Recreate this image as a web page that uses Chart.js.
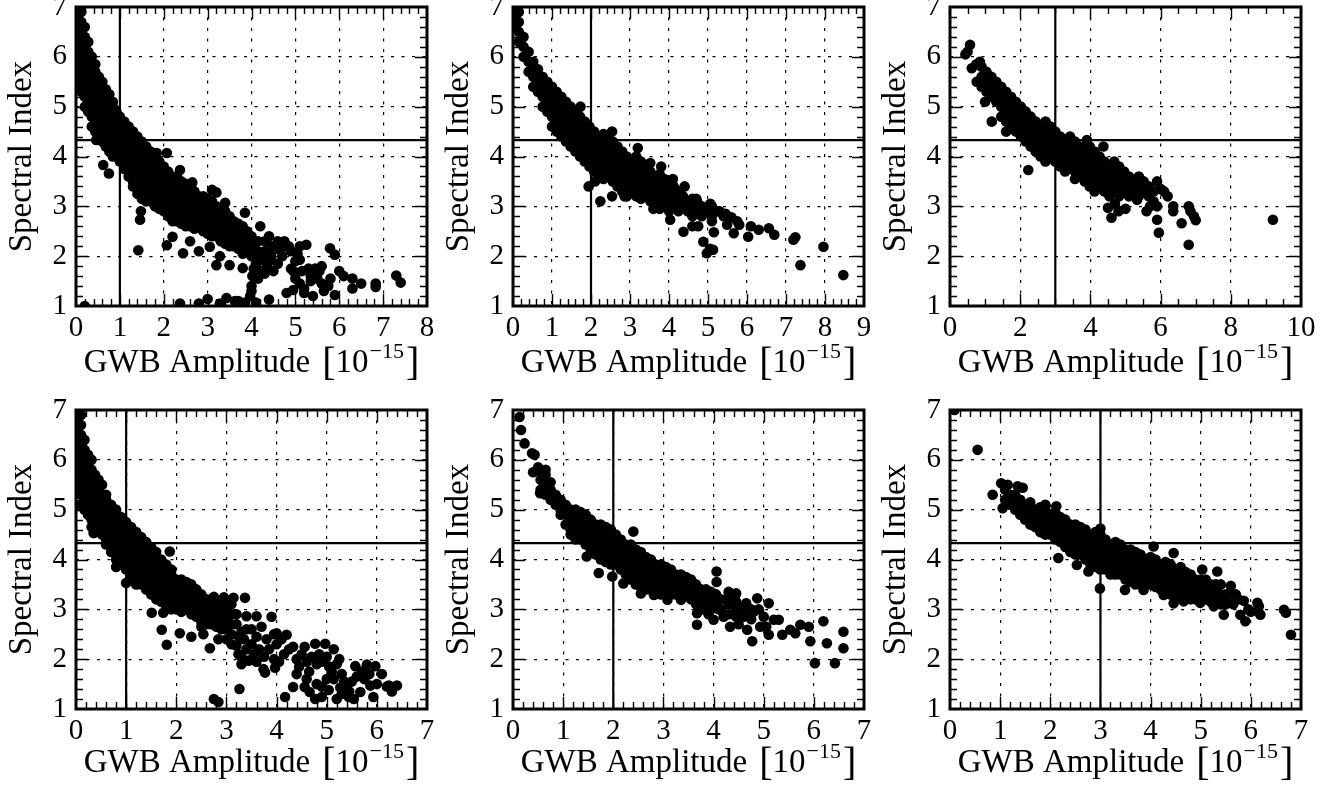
<!DOCTYPE html>
<html>
<head>
<meta charset="utf-8">
<script src="https://cdn.jsdelivr.net/npm/chart.js@4.4.1/dist/chart.umd.min.js"></script>
<style>
  body { margin: 0; background: #fff; width: 1338px; height: 786px; overflow: hidden; position: relative; }
  canvas { position: absolute; }
</style>
</head>
<body>
<script>
// axis setup per panel (top row left->right, then bottom row)
const xMaxes = [8, 9, 10, 7, 7, 7];
const xSteps = [1, 1, 2, 1, 1, 1];
const xMinorSteps = [0.2, 0.2, 0.5, 0.2, 0.2, 0.2];
const yTicks = [1, 2, 3, 4, 5, 6, 7];
const vLines = [1, 2, 3, 1, 2, 3];
const hLine = 4.33;

// dense part of each cloud: [x, y, y, ...] read column by column
const band1 = [
  [0.04, 7.0, 6.8, 6.6, 6.4, 6.2, 6.0, 5.8, 5.6, 5.4],
  [0.12, 6.9, 6.7, 6.5, 6.3, 6.1, 5.9, 5.7, 5.5, 5.3],
  [0.2, 6.6, 6.4, 6.2, 6.0, 5.8, 5.6, 5.4, 5.2, 5.0],
  [0.28, 6.3, 6.1, 5.9, 5.7, 5.5, 5.3, 5.1, 4.9],
  [0.36, 6.0, 5.8, 5.6, 5.4, 5.2, 5.0, 4.8, 4.6],
  [0.44, 5.85, 5.7, 5.5, 5.3, 5.1, 4.9, 4.7, 4.5],
  [0.52, 5.6, 5.4, 5.2, 5.0, 4.8, 4.6, 4.4],
  [0.6, 5.5, 5.3, 5.1, 4.9, 4.7, 4.5, 4.3],
  [0.68, 5.35, 5.2, 5.0, 4.8, 4.6, 4.4, 4.2],
  [0.76, 5.25, 5.1, 4.9, 4.7, 4.5, 4.3, 4.1],
  [0.84, 5.1, 5.0, 4.8, 4.6, 4.4, 4.2, 4.0],
  [0.92, 4.9, 4.7, 4.5, 4.3, 4.1],
  [1.0, 4.8, 4.6, 4.4, 4.2, 4.0, 3.9],
  [1.1, 4.7, 4.5, 4.3, 4.1, 3.9, 3.75],
  [1.2, 4.6, 4.4, 4.2, 4.0, 3.8, 3.6],
  [1.3, 4.5, 4.3, 4.1, 3.9, 3.7, 3.5, 3.4],
  [1.4, 4.4, 4.2, 4.0, 3.8, 3.6, 3.4, 3.25],
  [1.5, 4.3, 4.1, 3.9, 3.7, 3.5, 3.3, 3.15],
  [1.6, 4.2, 4.0, 3.8, 3.6, 3.4, 3.2, 3.1],
  [1.7, 4.1, 3.9, 3.7, 3.5, 3.3, 3.1],
  [1.8, 4.0, 3.8, 3.6, 3.4, 3.2, 3.0],
  [1.9, 3.9, 3.7, 3.5, 3.3, 3.1, 2.95],
  [2.0, 3.8, 3.6, 3.4, 3.2, 3.0, 2.9],
  [2.1, 3.7, 3.5, 3.3, 3.1, 2.9, 2.8],
  [2.2, 3.6, 3.4, 3.2, 3.0, 2.8, 2.7],
  [2.3, 3.6, 3.5, 3.3, 3.1, 2.9, 2.7],
  [2.4, 3.5, 3.4, 3.2, 3.0, 2.8, 2.65],
  [2.5, 3.45, 3.3, 3.1, 2.9, 2.7, 2.6],
  [2.6, 3.35, 3.2, 3.0, 2.8, 2.6],
  [2.7, 3.3, 3.1, 2.9, 2.7, 2.55],
  [2.8, 3.2, 3.0, 2.8, 2.6],
  [2.9, 3.2, 3.1, 2.9, 2.7, 2.5],
  [3.0, 3.15, 3.0, 2.8, 2.6, 2.45],
  [3.1, 3.1, 2.9, 2.7, 2.5, 2.4],
  [3.2, 3.0, 2.8, 2.6, 2.4],
  [3.3, 2.9, 2.7, 2.5, 2.3],
  [3.4, 2.9, 2.8, 2.6, 2.4, 2.25],
  [3.5, 2.8, 2.7, 2.5, 2.3, 2.2],
  [3.6, 2.7, 2.6, 2.4, 2.2],
  [3.7, 2.65, 2.5, 2.3, 2.15],
  [3.8, 2.6, 2.4, 2.2, 2.05],
  [3.9, 2.5, 2.3, 2.1],
  [4.0, 2.4, 2.2, 2.0],
  [4.15, 2.3, 2.1, 1.9],
  [4.3, 2.3, 2.1],
  [4.45, 2.2],
  [4.6, 2.15]
];
const band2 = [
  [0.05, 7.0, 6.8, 6.6],
  [0.15, 6.9, 6.7, 6.5, 6.3],
  [0.27, 6.4, 6.2, 6.0],
  [0.4, 6.1, 5.9, 5.7],
  [0.52, 5.9, 5.8, 5.6, 5.4],
  [0.64, 5.75, 5.5, 5.3],
  [0.76, 5.6, 5.4, 5.2, 5.0],
  [0.88, 5.5, 5.3, 5.1, 4.9],
  [1.0, 5.4, 5.2, 5.0, 4.8, 4.6],
  [1.12, 5.3, 5.1, 4.9, 4.7, 4.5],
  [1.24, 5.2, 5.0, 4.8, 4.6, 4.4],
  [1.36, 5.1, 4.9, 4.7, 4.5, 4.3],
  [1.48, 5.0, 4.8, 4.6, 4.4, 4.2],
  [1.6, 4.9, 4.7, 4.5, 4.3, 4.1],
  [1.72, 4.8, 4.6, 4.4, 4.2, 4.0],
  [1.84, 4.7, 4.5, 4.3, 4.1, 3.9],
  [1.96, 4.6, 4.4, 4.2, 4.0, 3.8],
  [2.08, 4.5, 4.3, 4.1, 3.9, 3.7],
  [2.2, 4.4, 4.2, 4.0, 3.8, 3.6],
  [2.32, 4.45, 4.3, 4.1, 3.9, 3.7, 3.55],
  [2.44, 4.4, 4.2, 4.0, 3.8, 3.6],
  [2.56, 4.3, 4.1, 3.9, 3.7, 3.5],
  [2.68, 4.2, 4.0, 3.8, 3.6, 3.4],
  [2.8, 4.1, 3.9, 3.7, 3.5, 3.3],
  [2.92, 4.0, 3.8, 3.6, 3.4, 3.2],
  [3.04, 3.9, 3.7, 3.5, 3.3],
  [3.16, 4.0, 3.8, 3.6, 3.4, 3.2],
  [3.28, 3.9, 3.7, 3.5, 3.3, 3.15],
  [3.4, 3.8, 3.6, 3.4, 3.2],
  [3.52, 3.7, 3.5, 3.3, 3.1],
  [3.64, 3.6, 3.4, 3.2, 3.0],
  [3.76, 3.65, 3.5, 3.3, 3.1, 2.95],
  [3.88, 3.55, 3.4, 3.2, 3.0],
  [4.0, 3.5, 3.3, 3.1, 2.9],
  [4.12, 3.4, 3.2, 3.0],
  [4.24, 3.3, 3.1, 2.9],
  [4.36, 3.2, 3.0],
  [4.48, 3.1, 2.9],
  [4.6, 3.15, 3.0, 2.8],
  [4.72, 3.1, 2.9],
  [4.84, 3.0, 2.8],
  [4.96, 2.9],
  [5.1, 3.0, 2.8],
  [5.25, 2.9],
  [5.4, 2.8]
];
const band3 = [
  [0.9, 5.8, 5.6, 5.4],
  [1.04, 5.7, 5.5, 5.3],
  [1.18, 5.6, 5.4, 5.2],
  [1.32, 5.5, 5.3, 5.1],
  [1.46, 5.4, 5.2, 5.0, 4.8],
  [1.6, 5.3, 5.1, 4.9, 4.7, 4.5],
  [1.74, 5.2, 5.0, 4.8, 4.6],
  [1.88, 5.1, 4.9, 4.7, 4.5],
  [2.02, 5.0, 4.8, 4.6, 4.4],
  [2.16, 4.9, 4.7, 4.5, 4.3],
  [2.3, 4.8, 4.6, 4.4, 4.2],
  [2.44, 4.7, 4.5, 4.3, 4.1],
  [2.58, 4.6, 4.4, 4.2, 4.0],
  [2.72, 4.7, 4.5, 4.3, 4.1, 3.9],
  [2.86, 4.6, 4.4, 4.2, 4.0],
  [3.0, 4.5, 4.3, 4.1, 3.9],
  [3.14, 4.4, 4.2, 4.0, 3.8],
  [3.28, 4.3, 4.1, 3.9, 3.7],
  [3.42, 4.4, 4.2, 4.0, 3.8],
  [3.56, 4.3, 4.1, 3.9, 3.7, 3.55],
  [3.7, 4.2, 4.0, 3.8, 3.6],
  [3.84, 4.1, 3.9, 3.7, 3.5],
  [3.98, 4.2, 4.0, 3.8, 3.6, 3.4],
  [4.12, 4.1, 3.9, 3.7, 3.5, 3.3],
  [4.26, 4.0, 3.8, 3.6, 3.4],
  [4.4, 3.9, 3.7, 3.5, 3.3],
  [4.54, 3.8, 3.6, 3.4, 3.2],
  [4.68, 3.9, 3.7, 3.5, 3.3],
  [4.82, 3.8, 3.6, 3.4, 3.2],
  [4.96, 3.7, 3.5, 3.3],
  [5.1, 3.6, 3.4, 3.2],
  [5.24, 3.5, 3.3],
  [5.38, 3.6, 3.4, 3.2],
  [5.52, 3.5, 3.3],
  [5.66, 3.4, 3.2],
  [5.8, 3.3, 3.1]
];
const band4 = [
  [0.03, 7.0, 6.8, 6.6, 6.4, 6.2, 6.0, 5.8, 5.6, 5.4],
  [0.1, 6.9, 6.7, 6.5, 6.3, 6.1, 5.9, 5.7, 5.5, 5.3, 5.1],
  [0.17, 6.4, 6.2, 6.0, 5.8, 5.6, 5.4, 5.2, 5.0],
  [0.24, 6.1, 5.9, 5.7, 5.5, 5.3, 5.1, 4.9],
  [0.31, 6.0, 5.8, 5.6, 5.4, 5.2, 5.0, 4.8, 4.65],
  [0.38, 5.7, 5.5, 5.3, 5.1, 4.9, 4.7, 4.55],
  [0.45, 5.6, 5.4, 5.2, 5.0, 4.8, 4.6],
  [0.52, 5.5, 5.3, 5.1, 4.9, 4.7, 4.5],
  [0.6, 5.3, 5.2, 5.0, 4.8, 4.6, 4.4, 4.3],
  [0.7, 5.1, 4.9, 4.7, 4.5, 4.3, 4.15],
  [0.8, 5.0, 4.8, 4.6, 4.4, 4.2, 4.0],
  [0.9, 4.85, 4.7, 4.5, 4.3, 4.1, 3.9],
  [1.0, 4.75, 4.6, 4.4, 4.2, 4.0, 3.8],
  [1.1, 4.65, 4.5, 4.3, 4.1, 3.9, 3.7, 3.6],
  [1.2, 4.55, 4.4, 4.2, 4.0, 3.8, 3.6, 3.5],
  [1.3, 4.45, 4.3, 4.1, 3.9, 3.7, 3.5],
  [1.4, 4.35, 4.2, 4.0, 3.8, 3.6, 3.4],
  [1.5, 4.25, 4.1, 3.9, 3.7, 3.5, 3.3],
  [1.6, 4.15, 4.0, 3.8, 3.6, 3.4, 3.2],
  [1.7, 4.0, 3.9, 3.7, 3.5, 3.3, 3.15],
  [1.8, 3.9, 3.8, 3.6, 3.4, 3.2, 3.05],
  [1.9, 3.8, 3.7, 3.5, 3.3, 3.1, 3.0],
  [2.0, 3.6, 3.4, 3.2, 3.0],
  [2.1, 3.6, 3.5, 3.3, 3.1, 2.95],
  [2.2, 3.55, 3.4, 3.2, 3.0],
  [2.3, 3.5, 3.3, 3.1, 2.9],
  [2.4, 3.4, 3.2, 3.0, 2.85],
  [2.5, 3.3, 3.1, 2.9, 2.75],
  [2.6, 3.2, 3.0, 2.8, 2.7],
  [2.7, 3.2, 3.1, 2.9, 2.7],
  [2.8, 3.15, 3.0, 2.8, 2.65],
  [2.9, 3.1, 2.9, 2.7, 2.6],
  [3.0, 3.1, 3.0, 2.8, 2.6],
  [3.1, 3.1, 2.9, 2.7, 2.5]
];
const band5 = [
  [0.55, 5.75, 5.6, 5.4],
  [0.65, 5.7, 5.5, 5.3],
  [0.75, 5.55, 5.4, 5.2],
  [0.85, 5.3, 5.1],
  [0.95, 5.2, 5.0, 4.9],
  [1.05, 5.1, 4.9, 4.7],
  [1.15, 5.0, 4.8, 4.6, 4.5],
  [1.25, 5.0, 4.9, 4.7, 4.5, 4.4],
  [1.35, 4.95, 4.8, 4.6, 4.4],
  [1.45, 4.9, 4.7, 4.5, 4.3],
  [1.55, 4.8, 4.6, 4.4, 4.2],
  [1.65, 4.7, 4.5, 4.3, 4.1],
  [1.75, 4.7, 4.6, 4.4, 4.2, 4.0],
  [1.85, 4.65, 4.5, 4.3, 4.1, 3.95],
  [1.95, 4.6, 4.4, 4.2, 4.0, 3.9],
  [2.05, 4.5, 4.3, 4.1, 3.9],
  [2.15, 4.4, 4.2, 4.0, 3.8],
  [2.25, 4.3, 4.1, 3.9, 3.7],
  [2.35, 4.3, 4.2, 4.0, 3.8, 3.6],
  [2.45, 4.2, 4.1, 3.9, 3.7, 3.5],
  [2.55, 4.15, 4.0, 3.8, 3.6, 3.45],
  [2.65, 4.05, 3.9, 3.7, 3.5, 3.4],
  [2.75, 4.0, 3.8, 3.6, 3.4],
  [2.85, 3.9, 3.7, 3.5, 3.35],
  [2.95, 3.9, 3.8, 3.6, 3.4, 3.3],
  [3.05, 3.85, 3.7, 3.5, 3.3],
  [3.15, 3.8, 3.6, 3.4, 3.3],
  [3.25, 3.7, 3.5, 3.3],
  [3.35, 3.7, 3.6, 3.4, 3.3],
  [3.45, 3.65, 3.5, 3.3],
  [3.55, 3.6, 3.4, 3.2],
  [3.65, 3.5, 3.3, 3.1],
  [3.75, 3.4, 3.2, 3.05],
  [3.85, 3.4, 3.3, 3.1],
  [3.95, 3.35, 3.2, 3.0],
  [4.05, 3.3, 3.1],
  [4.15, 3.2, 3.0],
  [4.3, 3.25, 3.1, 2.9],
  [4.45, 3.15, 3.0, 2.85],
  [4.6, 3.05, 2.9],
  [4.75, 3.0, 2.8]
];
const band6 = [
  [1.1, 5.4, 5.2],
  [1.2, 5.3, 5.1],
  [1.3, 5.3, 5.2, 5.0],
  [1.4, 5.2, 5.1, 4.9],
  [1.5, 5.1, 5.0, 4.8],
  [1.6, 5.05, 4.9, 4.7],
  [1.7, 5.0, 4.8, 4.65],
  [1.8, 5.05, 4.9, 4.7, 4.55],
  [1.9, 5.0, 4.8, 4.6, 4.5],
  [2.0, 4.9, 4.7, 4.5],
  [2.1, 4.95, 4.8, 4.6, 4.4],
  [2.2, 4.85, 4.7, 4.5, 4.35],
  [2.3, 4.8, 4.6, 4.4, 4.25],
  [2.4, 4.7, 4.5, 4.3, 4.15],
  [2.5, 4.7, 4.6, 4.4, 4.2, 4.1],
  [2.6, 4.65, 4.5, 4.3, 4.1],
  [2.7, 4.6, 4.4, 4.2, 4.0],
  [2.8, 4.5, 4.3, 4.1, 3.9],
  [2.9, 4.55, 4.4, 4.2, 4.0, 3.85],
  [3.0, 4.5, 4.3, 4.1, 3.9, 3.8],
  [3.1, 4.4, 4.2, 4.0, 3.8],
  [3.2, 4.3, 4.1, 3.9, 3.7],
  [3.3, 4.35, 4.2, 4.0, 3.8, 3.7],
  [3.4, 4.3, 4.1, 3.9, 3.7],
  [3.5, 4.2, 4.0, 3.8, 3.6],
  [3.6, 4.2, 4.1, 3.9, 3.7, 3.55],
  [3.7, 4.15, 4.0, 3.8, 3.6, 3.5],
  [3.8, 4.1, 3.9, 3.7, 3.5],
  [3.9, 4.0, 3.8, 3.6, 3.5],
  [4.0, 4.05, 3.9, 3.7, 3.5],
  [4.1, 4.0, 3.8, 3.6, 3.45],
  [4.2, 3.9, 3.7, 3.5, 3.4],
  [4.3, 3.95, 3.8, 3.6, 3.4],
  [4.4, 3.9, 3.7, 3.5, 3.3],
  [4.5, 3.8, 3.6, 3.4, 3.25],
  [4.6, 3.85, 3.7, 3.5, 3.3],
  [4.7, 3.75, 3.6, 3.4, 3.2],
  [4.8, 3.7, 3.5, 3.3, 3.2],
  [4.9, 3.6, 3.4, 3.2],
  [5.0, 3.6, 3.5, 3.3, 3.2],
  [5.1, 3.6, 3.4, 3.2],
  [5.2, 3.5, 3.3, 3.15],
  [5.3, 3.5, 3.4, 3.2],
  [5.4, 3.3, 3.1],
  [5.5, 3.3, 3.1]
];

// the stragglers around each cloud, [x, y]
const extra1 = [[0.2,1.0],[0.46,4.33],[0.62,3.83],[0.75,3.66],[1.42,2.12],[1.46,2.73],[1.48,2.9],[1.84,4.07],[2.07,4.07],[2.07,2.22],[2.2,2.39],[2.44,2.06],[2.6,2.3],[2.8,2.1],[3.05,2.19],[3.2,1.82],[3.28,2.0],[3.5,1.82],[3.8,1.76],[3.85,2.87],[2.37,3.73],[2.65,3.48],[3.1,3.33],[3.2,3.28],[3.4,3.07],[4.2,2.6],[4.4,2.4],[4.6,2.3],[4.72,2.19],[4.9,2.1],[5.1,2.2],[5.25,2.23],[5.79,2.16],[5.9,2.03],
  [2.37,1.05],[2.8,1.05],[3.0,1.14],[3.28,1.05],[3.43,1.16],[3.62,1.1],[3.7,1.1],[3.85,1.07],[3.97,1.2],[4.1,1.07],[4.4,1.13],
  [4.0,1.3],[4.0,1.4],[4.02,1.6],[4.05,1.75],[4.1,1.85],[4.15,1.55],[4.2,1.7],[4.3,1.65],[4.35,1.8],[4.4,1.9],
  [4.05,2.0],[4.2,1.95],[4.3,2.05],[4.45,2.0],[4.55,2.15],[4.65,2.25],[4.75,2.3],[4.85,2.2],
  [4.8,1.26],[4.95,1.32],[5.1,1.45],[5.2,1.26],[5.4,1.2],[5.35,1.5],[5.55,1.7],[5.65,1.3],[5.9,1.22],[6.1,1.6],[6.3,1.55],[6.3,1.35],[6.5,1.45],[6.83,1.45],[6.83,1.38],[7.3,1.61],[7.4,1.47],
  [5.0,1.9],[5.1,1.93],[4.9,1.75],[5.3,1.75],[5.35,1.6],[5.8,1.55],[5.75,1.4],[5.6,1.45],[5.0,1.55],[4.95,1.7],[5.15,1.7],[5.45,1.75],[5.6,1.8],[5.05,2.05],[4.7,2.0],[4.6,1.85],[4.5,1.7],[6.0,1.7],[5.2,1.35],[5.5,1.55]];
const extra2 = [[1.73,5.0],[2.54,4.5],[3.2,4.17],[1.94,3.4],[2.24,3.1],[2.54,3.2],[2.86,3.2],[2.1,3.5],[3.6,2.95],[4.03,2.73],[4.37,2.49],[4.6,2.6],[4.75,2.6],[4.88,2.29],[4.97,2.06],[5.13,2.13],[5.05,2.15],[5.15,2.48],[5.1,2.7],[5.3,2.9],[5.49,2.63],[5.66,2.46],[5.75,2.7],[5.8,2.63],[6.03,2.39],[6.1,2.6],[6.3,2.53],[6.56,2.56],[6.7,2.43],[7.19,2.33],[7.24,2.38],[7.37,1.82],[7.96,2.19],[8.47,1.62],[4.1,3.55],[4.4,3.4],[4.7,3.15],[5.06,3.05],[5.6,2.78],[5.45,2.85],[3.8,3.8],[3.52,3.87]];
const extra3 = [[0.44,6.05],[0.5,6.1],[0.57,6.24],[0.62,5.77],[0.76,5.5],[0.75,5.85],[0.85,5.9],[1.19,4.7],[1.0,5.1],[2.23,3.73],[4.37,4.2],[3.9,4.33],[4.6,2.77],[4.5,2.97],[4.8,2.9],[5.0,2.95],[5.33,3.13],[5.6,2.9],[5.7,3.0],[5.9,2.73],[5.95,2.47],[5.9,3.0],[5.9,3.5],[6.0,3.35],[6.1,3.3],[6.2,3.2],[6.36,3.0],[6.36,2.9],[6.6,2.66],[6.8,3.0],[6.85,2.9],[6.95,2.8],[7.0,2.72],[6.8,2.23],[9.2,2.73],[4.7,3.05]];
const extra4 = [[0.35,4.53],[0.8,3.85],[1.0,3.53],[1.87,4.16],[1.51,2.93],[1.74,2.93],[1.71,2.59],[1.81,2.29],[2.07,2.52],[2.3,2.45],[2.5,2.65],[2.54,2.5],[2.67,2.22],[2.84,2.4],[3.2,2.27],[3.24,2.1],[3.3,1.9],[3.44,1.97],[3.74,1.8],[3.77,1.73],[3.97,1.83],[4.17,1.24],[4.33,1.44],[4.56,1.44],[4.66,1.34],[4.77,1.2],[4.9,1.24],[5.04,1.38],[5.14,1.6],[5.27,1.43],[5.44,1.24],[5.54,1.2],[5.67,1.34],[5.87,1.47],[5.93,1.24],[6.1,1.7],[2.75,1.2],[2.84,1.14],[3.26,1.4],
  [3.37,3.23],[3.4,2.86],[3.6,2.86],[3.9,2.85],[4.0,2.52],[4.2,2.49],[4.33,2.25],[4.56,2.25],[4.77,2.31],[4.97,2.31],[5.14,2.2],[5.57,1.86],[5.8,1.89],[5.97,1.86],[6.24,1.47],[6.4,1.47],[2.95,3.24],[2.75,3.25],[3.14,3.23],
  [3.2,2.7],[3.3,2.55],[3.35,2.4],[3.5,2.6],[3.5,2.3],[3.6,2.45],[3.65,2.2],[3.7,2.65],[3.8,2.4],[3.85,2.2],[3.95,2.5],[4.0,2.3],[4.1,2.4],[4.15,2.1],[4.05,1.95],[3.95,2.0],[4.25,2.2],[3.3,2.05],[3.6,1.95],[3.75,2.05],[3.55,2.1],[3.4,2.2],[3.25,2.45],[3.4,2.6],[3.2,2.9],[3.1,2.3],[3.0,2.4],
  [4.4,2.0],[4.5,2.1],[4.45,1.85],[4.6,1.95],[4.7,2.05],[4.65,1.75],[4.8,1.9],[4.85,2.1],[4.9,1.95],[5.0,2.05],[5.05,1.85],[5.0,1.6],[5.1,1.75],[5.2,1.9],[5.25,2.0],[5.3,1.7],[5.35,1.55],[5.4,1.45],[5.5,1.55],[5.6,1.65],[5.7,1.75],[5.75,1.6],[5.85,1.7],[5.3,1.3],[5.2,1.2],[5.45,1.35],[4.6,1.6],[4.4,1.7],[4.8,1.5],[4.9,1.45],[6.0,1.5],[6.3,1.35],[6.2,1.45]];
const extra5 = [[0.13,6.86],[0.16,6.6],[0.23,6.33],[0.38,6.13],[0.43,6.1],[0.4,5.75],[0.5,5.85],[0.54,5.33],[0.65,5.8],[2.4,4.56],[1.47,4.06],[1.71,3.73],[1.98,3.66],[2.2,3.52],[2.55,3.32],[2.81,3.29],[3.08,3.19],[3.35,3.19],[3.67,2.92],[3.67,2.69],[4.0,2.79],[4.06,3.76],[4.06,3.55],[4.33,2.65],[4.67,2.59],[4.77,2.36],[4.93,2.65],[5.1,2.49],[5.2,2.79],[5.3,2.79],[5.37,2.49],[5.53,2.59],[5.63,2.52],[5.73,2.69],[5.9,2.65],[5.93,2.36],[6.02,1.92],[6.19,2.76],[6.26,2.32],[6.42,1.92],[6.59,2.55],[6.59,2.22],[4.87,3.22],[5.1,3.12],[5.0,2.85],[4.65,3.12],[4.45,3.32],[4.3,3.35],[4.8,2.95],[4.6,2.85],[4.9,3.0],[5.05,2.65],[4.5,2.7],[4.2,2.85],[3.9,2.9],[4.1,3.0],[3.8,3.0]];
const extra6 = [[0.09,7.0],[0.55,6.2],[0.85,5.3],[1.02,5.53],[1.05,5.03],[1.15,5.5],[1.35,5.47],[1.45,5.44],[2.16,4.03],[2.53,3.89],[2.99,3.42],[3.49,3.39],[2.76,3.76],[3.0,4.62],[4.06,4.26],[4.46,4.13],[5.03,3.8],[5.33,3.76],[5.4,3.5],[5.6,3.47],[5.7,3.3],[5.86,3.17],[6.13,3.13],[6.16,3.06],[6.66,2.99],[6.7,2.93],[6.8,2.49],[5.46,2.89],[5.79,2.89],[5.89,2.76],[6.19,2.89],[6.0,2.95],[5.95,3.0],[6.15,2.95],[4.26,3.29],[4.46,3.12],[4.66,3.16],[4.99,3.13],[5.26,3.06],[5.6,3.3],[5.65,3.1],[5.75,3.2],[5.5,3.2],[3.86,3.39],[3.7,3.55],[1.9,5.1],[2.12,5.07],[1.6,5.15]];

const bands = [band1, band2, band3, band4, band5, band6];
const extras = [extra1, extra2, extra3, extra4, extra5, extra6];

// page layout (pixels)
const plotLefts = [76, 513, 950];
const plotRights = [427, 864, 1301];
const rightPads = [12, 12, 30];
const rowTops = [0, 388];
const rowHeights = [386, 398];
const topPads = [7, 22];
const xAxisHeights = [80, 77];
const FONT = '"Liberation Serif", "Times New Roman", serif';

function toPoints(cols, pts) {
  let out = [];
  cols.forEach((c) => {
    for (let i = 1; i < c.length; i++) out.push({ x: c[0], y: c[i] });
  });
  pts.forEach((p) => out.push({ x: p[0], y: p[1] }));
  return out;
}

// ticks inside the frame on all 4 sides, frame itself and axis titles
const framePlugin = {
  id: "frame",
  afterDatasetsDraw(chart) {
    const { ctx, chartArea: a, scales } = chart;
    const o = chart.options.plugins.frame;
    const xs = scales.x, ys = scales.y;
    ctx.save();
    ctx.strokeStyle = "#000";
    ctx.lineWidth = 1.4;
    ctx.beginPath();
    const nx = Math.round(o.xMax / o.xMinor);
    for (let i = 1; i < nx; i++) {
      const v = i * o.xMinor;
      const major = Math.abs(v / o.xStep - Math.round(v / o.xStep)) < 1e-6;
      const len = major ? 12 : 7;
      const px = Math.round(xs.getPixelForValue(v)) + 0.5;
      ctx.moveTo(px, a.bottom); ctx.lineTo(px, a.bottom - len);
      ctx.moveTo(px, a.top); ctx.lineTo(px, a.top + len);
    }
    const ny = Math.round(6 / 0.2);
    for (let i = 1; i < ny; i++) {
      const v = 1 + i * 0.2;
      const major = i % 5 === 0;
      const len = major ? 12 : 7;
      const py = Math.round(ys.getPixelForValue(v)) + 0.5;
      ctx.moveTo(a.left, py); ctx.lineTo(a.left + len, py);
      ctx.moveTo(a.right, py); ctx.lineTo(a.right - len, py);
    }
    ctx.stroke();
    ctx.lineWidth = 3;
    ctx.strokeRect(a.left, a.top, a.right - a.left, a.bottom - a.top);

    // y title
    ctx.fillStyle = "#000";
    ctx.save();
    ctx.translate(a.left - 54, (a.top + a.bottom) / 2);
    ctx.rotate(-Math.PI / 2);
    ctx.font = "33px " + FONT;
    ctx.textAlign = "center";
    ctx.textBaseline = "middle";
    ctx.fillText("Spectral Index", 0, 0);
    ctx.restore();

    // x title with superscript exponent
    const parts = [
      { t: "GWB Amplitude", f: "33px " + FONT, dy: 0, after: 12 },
      { t: "[", f: "40px " + FONT, dy: 3, after: 0 },
      { t: "10", f: "33px " + FONT, dy: 0, after: 1 },
      { t: "\u221215", f: "22px " + FONT, dy: -14, after: 2 },
      { t: "]", f: "40px " + FONT, dy: 3, after: 0 },
    ];
    let total = 0;
    parts.forEach((p) => {
      ctx.font = p.f;
      p.w = ctx.measureText(p.t).width;
      total += p.w + p.after;
    });
    let cx = (a.left + a.right) / 2 - total / 2;
    const base = a.bottom + o.titleOffset;
    ctx.textAlign = "left";
    ctx.textBaseline = "alphabetic";
    parts.forEach((p) => {
      ctx.font = p.f;
      ctx.fillText(p.t, cx, base + p.dy);
      cx += p.w + p.after;
    });
    ctx.restore();
  },
};

for (let k = 0; k < 6; k++) {
  const row = Math.floor(k / 3), col = k % 3;
  const left = plotLefts[col] - 76;
  const width = plotRights[col] + rightPads[col] - left;
  const cv = document.createElement("canvas");
  cv.width = width;
  cv.height = rowHeights[row];
  cv.style.left = left + "px";
  cv.style.top = rowTops[row] + "px";
  cv.style.width = width + "px";
  cv.style.height = rowHeights[row] + "px";
  document.body.appendChild(cv);

  const xMax = xMaxes[k];
  const xh = xAxisHeights[row];
  new Chart(cv.getContext("2d"), {
    type: "scatter",
    data: {
      datasets: [
        {
          data: [{ x: vLines[k], y: 1 }, { x: vLines[k], y: 7 }],
          showLine: true, borderColor: "#000", borderWidth: 2.2, pointRadius: 0, clip: 0,
        },
        {
          data: [{ x: 0, y: hLine }, { x: xMax, y: hLine }],
          showLine: true, borderColor: "#000", borderWidth: 2.2, pointRadius: 0, clip: 0,
        },
        {
          data: toPoints(bands[k], extras[k]),
          pointRadius: 5.3, pointBorderWidth: 0, backgroundColor: "#000", borderColor: "#000", clip: 0,
        },
      ],
    },
    options: {
      responsive: false,
      animation: false,
      devicePixelRatio: 1,
      events: [],
      layout: { padding: { left: 0, top: topPads[row], right: rightPads[col], bottom: 0 } },
      plugins: {
        legend: { display: false },
        tooltip: { enabled: false },
        frame: { xMax: xMax, xStep: xSteps[k], xMinor: xMinorSteps[k], titleOffset: xh - 14 },
      },
      scales: {
        x: {
          type: "linear", min: 0, max: xMax,
          ticks: { stepSize: xSteps[k], autoSkip: false, maxRotation: 0, color: "#000", padding: 5, font: { family: FONT, size: 29 } },
          grid: { color: "#000", lineWidth: 1.2, drawTicks: false },
          border: { display: false, dash: [3, 7.5] },
          afterFit(s) { s.height = xh; s.paddingLeft = 0; s.paddingRight = 0; },
        },
        y: {
          type: "linear", min: 1, max: 7,
          afterBuildTicks(s) { s.ticks = yTicks.map((v) => ({ value: v })); },
          ticks: { color: "#000", padding: 9, font: { family: FONT, size: 29 } },
          grid: { color: "#000", lineWidth: 1.2, drawTicks: false },
          border: { display: false, dash: [3, 7.5] },
          afterFit(s) { s.width = 76; s.paddingTop = 0; s.paddingBottom = 0; },
        },
      },
    },
    plugins: [framePlugin],
  });
}
</script>
</body>
</html>
